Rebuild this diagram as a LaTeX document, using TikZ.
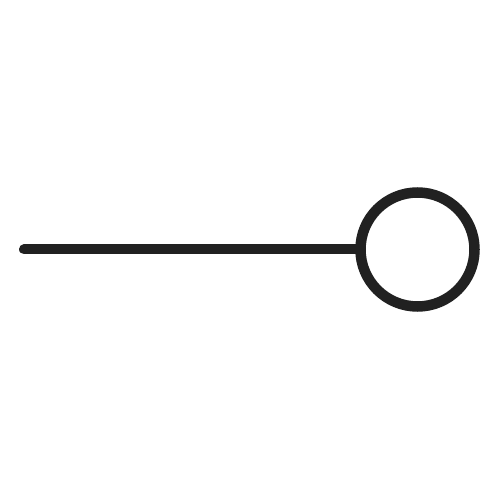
\documentclass[tikz,border=0pt]{standalone}
\begin{document}
\begin{tikzpicture}[x=1pt,y=1pt,
  stroke/.style={draw=black!87, line width=10.5pt}]
\useasboundingbox (0,0) rectangle (500,500);
\node[stroke, circle, minimum size=114pt, inner sep=0pt, fill=white] (c) at (417.5,250.5) {};
\coordinate (s) at (24,250.5);
\draw[stroke, line width=10pt, line cap=round] (s) -- (c.west);
\end{tikzpicture}
\end{document}
